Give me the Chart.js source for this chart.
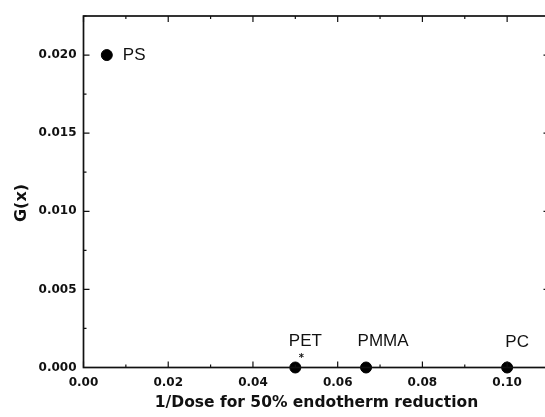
<!DOCTYPE html>
<html>
<head>
<meta charset="utf-8">
<script src="https://cdn.jsdelivr.net/npm/chart.js@4"></script>
<style>
  html, body { margin: 0; padding: 0; background: #fff; overflow: hidden; }
  #wrap { width: 556px; height: 417px; }
</style>
</head>
<body>
<div id="wrap"><canvas id="gChart" width="556" height="417"></canvas></div>
<script>
// polymers, 1/dose for 50% endotherm reduction, G(x)
const materials = ["PS", "PET", "PMMA", "PC"];
const invDose = [0.0055, 0.05, 0.0667, 0.10];
const gx = [0.020, 0, 0, 0];

// axis ranges
const xRange = [0, 0.11];
const yRange = [0, 0.0225];

// label offsets from each point (px)
const labelOffsets = [[16, 0], [10, -26], [17, -26], [10, -25]];

const ink = "#111";
const tickFont = { family: "DejaVu Sans", weight: "bold", size: 12 };

// frame, inward ticks, point labels and the y title
const framePlugin = {
  id: "frame",
  afterDraw(chart) {
    const ctx = chart.ctx;
    const a = chart.chartArea;
    const xs = chart.scales.x;
    const ys = chart.scales.y;
    ctx.save();
    ctx.strokeStyle = ink;
    ctx.lineWidth = 1.7;
    ctx.strokeRect(a.left, a.top, a.right - a.left, a.bottom - a.top);

    ctx.lineWidth = 1.2;
    for (let i = 0; i <= 11; i++) {
      const v = i * 0.01;
      const px = xs.getPixelForValue(v);
      const len = i % 2 === 0 ? 6 : 3;
      ctx.beginPath();
      ctx.moveTo(px, a.bottom); ctx.lineTo(px, a.bottom - len);
      ctx.moveTo(px, a.top); ctx.lineTo(px, a.top + len);
      ctx.stroke();
    }
    for (let i = 0; i <= 9; i++) {
      const v = i * 0.0025;
      const py = ys.getPixelForValue(v);
      const len = i % 2 === 0 ? 6 : 3;
      ctx.beginPath();
      ctx.moveTo(a.left, py); ctx.lineTo(a.left + len, py);
      ctx.moveTo(a.right, py); ctx.lineTo(a.right - len, py);
      ctx.stroke();
    }

    // material names beside the points
    ctx.fillStyle = ink;
    ctx.font = "17px 'Liberation Sans', Arial, sans-serif";
    ctx.textBaseline = "middle";
    materials.forEach((m, i) => {
      const px = xs.getPixelForValue(invDose[i]);
      const py = ys.getPixelForValue(gx[i]);
      const off = labelOffsets[i];
      ctx.textAlign = i === 0 ? "left" : "center";
      ctx.fillText(m, px + off[0], py + off[1]);
    });

    // small asterisk over PET
    const pet = materials.indexOf("PET");
    ctx.font = "bold 10px 'DejaVu Sans', sans-serif";
    ctx.textAlign = "center";
    ctx.fillText("*", xs.getPixelForValue(invDose[pet]) + 6, ys.getPixelForValue(0) - 9);

    // y axis title
    ctx.font = "bold 16px 'DejaVu Sans', sans-serif";
    ctx.translate(22, 203);
    ctx.rotate(-Math.PI / 2);
    ctx.fillText("G(x)", 0, 0);
    ctx.restore();
  }
};

new Chart(document.getElementById("gChart"), {
  type: "scatter",
  data: {
    datasets: [{
      data: invDose.map((x, i) => ({ x, y: gx[i] })),
      backgroundColor: "#000",
      borderColor: "#000",
      pointRadius: 5.5,
      pointHoverRadius: 5.5,
      clip: false
    }]
  },
  options: {
    responsive: false,
    animation: false,
    layout: { padding: { top: 16, right: 0, left: 0, bottom: 0 } },
    plugins: { legend: { display: false }, tooltip: { enabled: false } },
    scales: {
      x: {
        type: "linear",
        min: xRange[0],
        max: xRange[1],
        border: { display: false },
        grid: { display: false, drawTicks: false },
        ticks: {
          stepSize: 0.02,
          includeBounds: false,
          padding: 8,
          color: ink,
          font: tickFont,
          callback: v => v.toFixed(2)
        },
        title: {
          display: true,
          text: "1/Dose for 50% endotherm reduction",
          color: ink,
          font: { family: "DejaVu Sans", weight: "bold", size: 15.5 },
          padding: { top: 0, bottom: 5 }
        },
        afterFit: s => { s.height = 49.5; }
      },
      y: {
        type: "linear",
        min: yRange[0],
        max: yRange[1],
        border: { display: false },
        grid: { display: false, drawTicks: false },
        ticks: {
          stepSize: 0.005,
          includeBounds: false,
          padding: 7,
          color: ink,
          font: tickFont,
          callback: v => v.toFixed(3)
        },
        afterFit: s => { s.width = 83.5; }
      }
    }
  },
  plugins: [framePlugin]
});
</script>
</body>
</html>
